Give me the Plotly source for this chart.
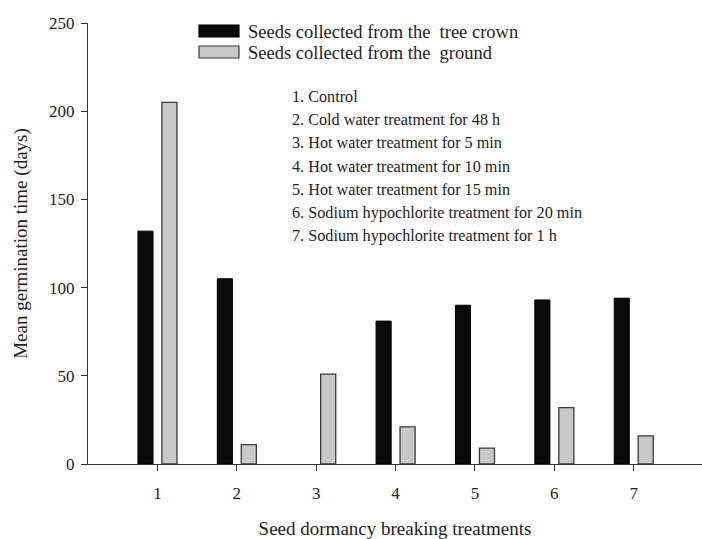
import plotly.graph_objects as go

treatments = [1, 2, 3, 4, 5, 6, 7]
tick_labels = ["1", "2", "3", "4", "5", "6", "7"]
crown = [132, 105, None, 81, 90, 93, 94]
ground = [205, 11, 51, 21, 9, 32, 16]
legend_names = ["Seeds collected from the  tree crown", "Seeds collected from the  ground"]
treatment_names = [
    "1. Control",
    "2. Cold water treatment for 48 h",
    "3. Hot water treatment for 5 min",
    "4. Hot water treatment for 10 min",
    "5. Hot water treatment for 15 min",
    "6. Sodium hypochlorite treatment for 20 min",
    "7. Sodium hypochlorite treatment for 1 h",
]

W, H = 702, 539
L, R, T, B = 88, 0, 23, 75
FONT = "Liberation Serif"
TXT = "#1e1e1e"

def px(x):
    return (x - L) / (W - L - R)

def py(y):
    return 1 - (y - T) / (H - T - B)

fig = go.Figure()
fig.add_trace(go.Bar(x=treatments, y=crown, width=0.19, offset=-0.246,
                     marker=dict(color="#0a0a0a", line=dict(color="#000000", width=1)),
                     name=legend_names[0], showlegend=False))
fig.add_trace(go.Bar(x=treatments, y=ground, width=0.19, offset=0.056,
                     marker=dict(color="#c8c8c8", line=dict(color="#3a3a3a", width=1.3)),
                     name=legend_names[1], showlegend=False))

shapes = []
annotations = []
leg_rows = [(25, 37, "#0a0a0a", "#000000"), (46, 58, "#c8c8c8", "#3a3a3a")]
for (y0, y1, fc, lc), name in zip(leg_rows, legend_names):
    shapes.append(dict(type="rect", xref="paper", yref="paper",
                       x0=px(199), x1=px(239), y0=py(y1), y1=py(y0),
                       fillcolor=fc, line=dict(color=lc, width=1.2)))
    annotations.append(dict(text=name, xref="paper", yref="paper",
                            x=px(246), y=py((y0 + y1) / 2 + 1), xanchor="left", yanchor="middle",
                            showarrow=False, font=dict(family=FONT, size=18.5, color=TXT)))

for i, t in enumerate(treatment_names):
    annotations.append(dict(text=t, xref="paper", yref="paper",
                            x=px(290), y=py(97 + i * 23.2), xanchor="left", yanchor="middle",
                            showarrow=False, font=dict(family=FONT, size=16.2, color=TXT)))

fig.update_layout(
    width=W, height=H,
    margin=dict(l=L, r=R, t=T, b=B),
    paper_bgcolor="white", plot_bgcolor="white",
    barmode="overlay",
    shapes=shapes, annotations=annotations,
    font=dict(family=FONT, size=17, color=TXT),
    xaxis=dict(range=[0.125, 7.86], tickvals=treatments, ticktext=tick_labels,
               showline=True, linecolor="#333", linewidth=1.2,
               ticks="outside", ticklen=6, tickcolor="#333", showgrid=False, zeroline=False,
               ticklabelstandoff=7,
               title=dict(text="Seed dormancy breaking treatments", standoff=22,
                          font=dict(family=FONT, size=19, color=TXT)),
               tickfont=dict(family=FONT, size=17, color=TXT)),
    yaxis=dict(range=[0, 250], tickvals=[0, 50, 100, 150, 200, 250],
               showline=True, linecolor="#333", linewidth=1.2,
               ticks="outside", ticklen=6, tickcolor="#333", showgrid=False, zeroline=False,
               ticklabelstandoff=3,
               title=dict(text="Mean germination time (days)", standoff=16,
                          font=dict(family=FONT, size=19, color=TXT)),
               tickfont=dict(family=FONT, size=17, color=TXT)),
)

fig.write_html("out.html")
